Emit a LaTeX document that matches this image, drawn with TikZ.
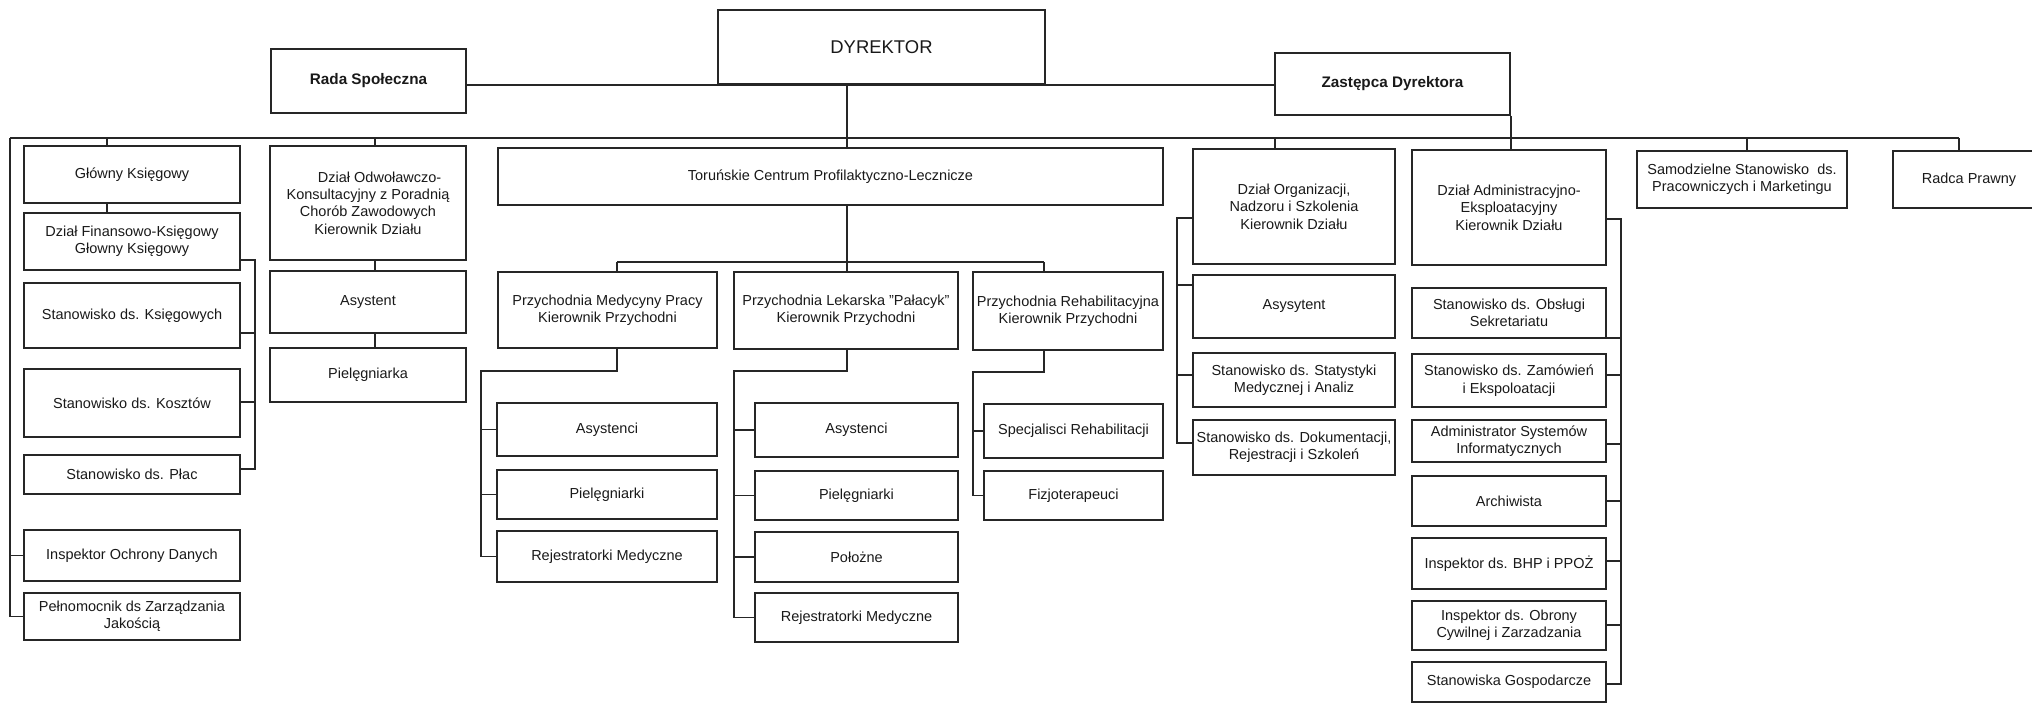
\documentclass[tikz,border=0pt]{standalone}
\usepackage{fontspec}
\setmainfont{Liberation Sans}
\newcommand{\obox}[7][]{\node[box,minimum width={(#5-#3)*0.02cm},minimum height={(#6-#4)*0.02cm},#1] (#2) at ({(#3+#5)/2},{(#4+#6)/2}) {#7};}
\begin{document}
\begin{tikzpicture}[x=0.02cm,y=-0.02cm,
  box/.style={draw=black!85,line width=0.95pt,inner sep=0pt,align=center,text=black!90,font=\fontsize{8.25}{9.9}\selectfont},
  boldbox/.style={font=\fontsize{8.7}{10.4}\selectfont\bfseries},
  bigbox/.style={font=\fontsize{10.5}{12.6}\selectfont},
  conn/.style={draw=black!85,line width=0.95pt}]
\useasboundingbox (0,0) rectangle (2032,704);
\clip (0,0) rectangle (2032,704);
% top level
\obox[bigbox]{dyr}{718}{10}{1045}{84}{DYREKTOR}
\obox[boldbox]{rada}{271}{49}{466}{113}{Rada Społeczna}
\obox[boldbox]{zast}{1275}{53}{1510}{115}{Zastępca Dyrektora}
% left column
\obox{gk}{24}{146}{240}{203}{Główny Księgowy}
\obox{df}{24}{213}{240}{270}{Dział Finansowo-Księgowy\\Głowny Księgowy}
\obox{ks}{24}{283}{240}{348}{Stanowisko ds. Księgowych}
\obox{ko}{24}{369}{240}{437}{Stanowisko ds. Kosztów}
\obox{pl}{24}{455}{240}{494}{Stanowisko ds. Płac}
\obox{iod}{24}{530}{240}{581}{Inspektor Ochrony Danych}
\obox{pel}{24}{593}{240}{640}{Pełnomocnik ds Zarządzania\\Jakością}
% Dzial Odwolawczo
\obox{odw}{270}{146}{466}{260}{\hspace*{1.6em}Dział Odwoławczo-\\Konsultacyjny z Poradnią\\Chorób Zawodowych\\Kierownik Działu}
\obox{asy}{270}{271}{466}{333}{Asystent}
\obox{pie}{270}{348}{466}{402}{Pielęgniarka}
% Torunskie
\obox{tor}{498}{148}{1163}{205}{Toruńskie Centrum Profilaktyczno-Lecznicze}
\obox{pm}{498}{272}{717}{348}{Przychodnia Medycyny Pracy\\Kierownik Przychodni}
\obox{pk}{734}{272}{958}{349}{Przychodnia Lekarska "Pałacyk"\\Kierownik Przychodni}
\obox{pr}{973}{272}{1163}{350}{Przychodnia Rehabilitacyjna\\Kierownik Przychodni}
\obox{ma}{497}{403}{717}{456}{Asystenci}
\obox{mp}{497}{470}{717}{519}{Pielęgniarki}
\obox{mr}{497}{531}{717}{582}{Rejestratorki Medyczne}
\obox{la}{755}{403}{958}{457}{Asystenci}
\obox{lp}{755}{471}{958}{520}{Pielęgniarki}
\obox{lpo}{755}{532}{958}{582}{Położne}
\obox{lr}{755}{593}{958}{642}{Rejestratorki Medyczne}
\obox{rs}{984}{404}{1163}{458}{Specjalisci Rehabilitacji}
\obox{rf}{984}{471}{1163}{520}{Fizjoterapeuci}
% Dzial Organizacji
\obox{org}{1193}{149}{1395}{264}{Dział Organizacji,\\Nadzoru i Szkolenia\\Kierownik Działu}
\obox{oa}{1193}{275}{1395}{338}{Asysytent}
\obox{os}{1193}{353}{1395}{407}{Stanowisko ds. Statystyki\\Medycznej i Analiz}
\obox{od}{1193}{420}{1395}{475}{Stanowisko ds. Dokumentacji,\\Rejestracji i Szkoleń}
% Dzial Administracyjno
\obox{adm}{1412}{150}{1606}{265}{Dział Administracyjno-\\Eksploatacyjny\\Kierownik Działu}
\obox{ao}{1412}{288}{1606}{338}{Stanowisko ds. Obsługi\\Sekretariatu}
\obox{az}{1412}{354}{1606}{407}{Stanowisko ds. Zamówień\\i Ekspoloatacji}
\obox{as}{1412}{420}{1606}{462}{Administrator Systemów\\Informatycznych}
\obox{aa}{1412}{476}{1606}{526}{Archiwista}
\obox{ab}{1412}{538}{1606}{589}{Inspektor ds. BHP i PPOŻ}
\obox{aob}{1412}{601}{1606}{650}{Inspektor ds. Obrony\\Cywilnej i Zarzadzania}
\obox{ag}{1412}{662}{1606}{702}{Stanowiska Gospodarcze}
% right
\obox{sam}{1637}{151}{1847}{208}{Samodzielne Stanowisko\ \ ds.\\Pracowniczych i Marketingu}
\obox{rad}{1893}{151}{2045}{208}{Radca Prawny}
% coordinates
\coordinate (d1) at (847,84);
\coordinate (busL) at (10,138);
\coordinate (b1) at (107,138);
\coordinate (b2) at (375,138);
\coordinate (b3) at (1275,138);
\coordinate (b4) at (1747,138);
\coordinate (b5) at (1959,138);
\coordinate (fb) at (255,260);
\coordinate (fk) at (255,333);
\coordinate (fo) at (255,402);
\coordinate (fp) at (255,469);
\coordinate (s1) at (617,262);
\coordinate (s2) at (847,262);
\coordinate (s3) at (1044,262);
\coordinate (m1) at (481,371);
\coordinate (l1) at (734,371);
\coordinate (r1) at (973,372);
\coordinate (o1) at (1177,218);
\coordinate (o2) at (1177,285);
\coordinate (o3) at (1177,375);
\coordinate (o4) at (1177,443);
\coordinate (a1) at (1621,219);
\coordinate (a2) at (1621,338);
\coordinate (a3) at (1621,375);
\coordinate (a4) at (1621,444);
\coordinate (a5) at (1621,501);
\coordinate (a6) at (1621,561);
\coordinate (a7) at (1621,625);
\coordinate (a8) at (1621,684);
% top connectors
\draw[conn] (rada.east |- dyr.south) -- (zast.west |- dyr.south);
\draw[conn] (d1) -- (d1 |- tor.north);
\draw[conn] (zast.south east) -- (zast.south east |- adm.north);
\draw[conn] (busL) -- (b5);
\draw[conn] (b1) -- (b1 |- gk.north);
\draw[conn] (b2) -- (b2 |- odw.north);
\draw[conn] (b3) -- (b3 |- org.north);
\draw[conn] (b4) -- (b4 |- sam.north);
\draw[conn] (b5) -- (b5 |- rad.north);
% left column
\draw[conn] (busL) |- (pel.west);
\draw[conn] (iod.west) -- (iod.west -| busL);
\draw[conn] (gk.south -| b1) -- (df.north -| b1);
\draw[conn] (df.east |- fb) -- (fb) -- (fp) -- (pl.east |- fp);
\draw[conn] (ks.east |- fk) -- (fk);
\draw[conn] (ko.east |- fo) -- (fo);
% Dzial Odwolawczo
\draw[conn] (odw.south -| b2) -- (asy.north -| b2);
\draw[conn] (asy.south -| b2) -- (pie.north -| b2);
% Torunskie
\draw[conn] (tor.south -| s2) -- (s2);
\draw[conn] (s1) -- (s3);
\draw[conn] (s1) -- (s1 |- pm.north);
\draw[conn] (s2) -- (s2 |- pk.north);
\draw[conn] (s3) -- (s3 |- pr.north);
\draw[conn] (pm.south -| s1) |- (m1) |- (mr.west);
\draw[conn] (ma.west) -- (ma.west -| m1);
\draw[conn] (mp.west) -- (mp.west -| m1);
\draw[conn] (pk.south -| s2) |- (l1) |- (lr.west);
\draw[conn] (la.west) -- (la.west -| l1);
\draw[conn] (lp.west) -- (lp.west -| l1);
\draw[conn] (lpo.west) -- (lpo.west -| l1);
\draw[conn] (pr.south -| s3) |- (r1) |- (rf.west);
\draw[conn] (rs.west) -- (rs.west -| r1);
% Dzial Organizacji
\draw[conn] (org.west |- o1) -- (o1) -- (o4) -- (od.west |- o4);
\draw[conn] (oa.west |- o2) -- (o2);
\draw[conn] (os.west |- o3) -- (o3);
% Dzial Administracyjno
\draw[conn] (adm.east |- a1) -- (a1) -- (a8) -- (ag.east |- a8);
\draw[conn] (ao.east |- a2) -- (a2);
\draw[conn] (az.east |- a3) -- (a3);
\draw[conn] (as.east |- a4) -- (a4);
\draw[conn] (aa.east |- a5) -- (a5);
\draw[conn] (ab.east |- a6) -- (a6);
\draw[conn] (aob.east |- a7) -- (a7);
\end{tikzpicture}
\end{document}
